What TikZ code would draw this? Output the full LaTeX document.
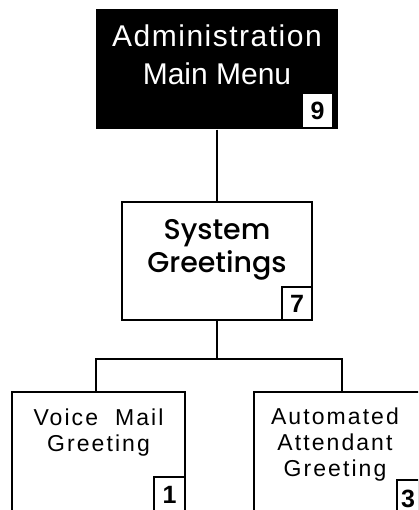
\documentclass[tikz,border=0pt]{standalone}
\usepackage{fontspec}
\setmainfont{Liberation Sans}
\newfontfamily\gothfont{Poppins Medium}
\newfontfamily\spacedfont[LetterSpace=9]{Liberation Sans}
\newfontfamily\widefont[LetterSpace=5]{Liberation Sans}
\usetikzlibrary{positioning}

\begin{document}
\begin{tikzpicture}[x=1pt, y=-1pt, line width=1.2pt]
		\tikzstyle{menubox}=[rectangle, draw=black, fill=white, inner sep=0pt]
		\tikzstyle{numbox}=[rectangle, draw=black, fill=white, inner sep=0pt,
			minimum width=30pt, font=\fontsize{25}{25}\selectfont\bfseries]
		\tikzstyle{menutext}=[inner sep=0pt, align=center]
		\tikzstyle{link}=[draw=black, line width=1.2pt]

		\clip (0,0) rectangle (418,510);

		% administration main menu
		\node[menubox, fill=black, draw=none, minimum width=242pt, minimum height=120pt] (admin) at (217,69) {};
		\node[menutext, text=white, font=\fontsize{30}{38}\selectfont, below=16pt of admin.north] (admintext) {{\widefont Administration}\\Main Menu};
		\node[numbox, draw=none, minimum width=29pt, minimum height=33pt, above left=2pt and 6pt of admin.south east] (num9) {9};

		% system greetings
		\node[menubox, minimum width=190pt, minimum height=118pt] (sysgreet) at (217,261) {};
		\node[menutext, font=\gothfont\fontsize{28.5}{33}\selectfont, below=17pt of sysgreet.north] (sysgreettext) {System\\Greetings};
		\node[numbox, minimum height=33pt, above left=0pt and 0pt of sysgreet.south east] (num7) {7};

		% voice mail / automated attendant
		\node[menubox, minimum width=173pt, minimum height=138pt] (vmgreet) at (98.5,461) {};
		\node[menutext, font=\spacedfont\fontsize{23}{26}\selectfont, below=17pt of vmgreet.north] (vmgreettext) {Voice\ \ Mail\\Greeting};
		\node[numbox, minimum width=31pt, minimum height=40pt, below left=85pt and 0pt of vmgreet.north east] (num1) {\raisebox{5pt}{1}};

		\node[menubox, minimum width=176pt, minimum height=138pt] (aagreet) at (342,461) {};
		\node[menutext, font=\spacedfont\fontsize{23}{26}\selectfont, below=16pt of aagreet.north, xshift=-7pt] (aagreettext) {Automated\\Attendant\\Greeting};
		\node[numbox, minimum width=22pt, minimum height=40pt, below right=88pt and 143pt of aagreet.north west] (num3) {\raisebox{3pt}{3}};

		\coordinate (fork) at (217,359);
		\coordinate (vmtop) at (96,392);
		\coordinate (aatop) at (342,392);

		\draw[link] (admin.south) -- (sysgreet.north);
		\draw[link] (sysgreet.south) -- (fork);
		\draw[link] (vmtop) |- (fork) -| (aatop);
		\draw[line width=1.8pt] (aagreet.north west) -- (aagreet.south west);
	\end{tikzpicture}
\end{document}
